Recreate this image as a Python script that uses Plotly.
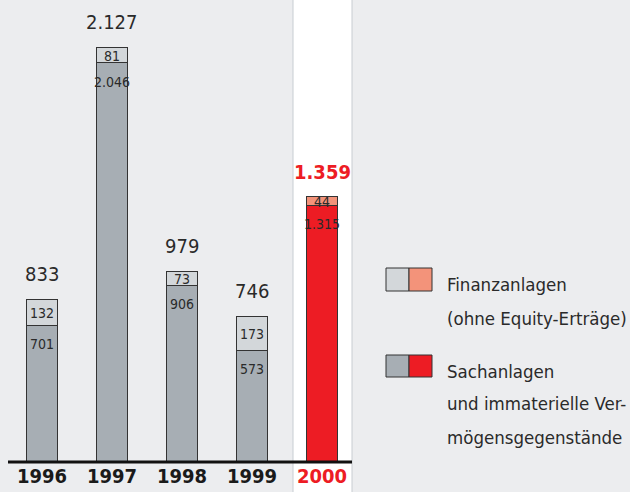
# %% import

import plotly.graph_objects as go

# %% data

years = ["1996", "1997", "1998", "1999", "2000"]
sachanlagen = [701, 2046, 906, 573, 1315]
finanzanlagen = [132, 81, 73, 173, 44]
totals = [s + f for s, f in zip(sachanlagen, finanzanlagen)]

legend_lines = [
    "Finanzanlagen",
    "(ohne Equity-Erträge)",
    "Sachanlagen",
    "und immaterielle Ver-",
    "mögensgegenstände",
]

# %% style

FONT = "DejaVu Sans Condensed, Liberation Sans Narrow, sans-serif"
BG = "#ECEDEF"
DARK = "#A7AEB4"
LIGHT = "#D3D7DA"
RED = "#ED1C24"
SALMON = "#F3937A"
TXT = "#2a2a2a"

W, H = 630, 492
L, R, T, B = 7, 273, 0, 30
PW, PH = W - L - R, H - T - B


def px(x):
    return (x - L) / PW


def py(y):
    return (H - B - y) / PH


x = list(range(len(years)))
cur = len(years) - 1

fig = go.Figure()

fig.add_bar(
    x=x,
    y=sachanlagen,
    marker=dict(color=[DARK] * cur + [RED], line=dict(color="#333", width=1)),
    width=0.43,
    hoverinfo="skip",
)
fig.add_bar(
    x=x,
    y=finanzanlagen,
    marker=dict(color=[LIGHT] * cur + [SALMON], line=dict(color="#333", width=1)),
    width=0.43,
    hoverinfo="skip",
)

# segment labels
for i in x:
    fig.add_annotation(
        x=i, y=sachanlagen[i], text=f"{sachanlagen[i]:,}".replace(",", "."),
        showarrow=False, yshift=-19, font=dict(size=14, color=TXT, family=FONT),
    )
    fig.add_annotation(
        x=i, y=sachanlagen[i] + finanzanlagen[i] / 2, text=f"{finanzanlagen[i]:,}",
        showarrow=False, yshift=-1, font=dict(size=14, color=TXT, family=FONT),
    )
    last = i == cur
    t = f"{totals[i]:,}".replace(",", ".")
    fig.add_annotation(
        x=i, y=totals[i], text=f"<b>{t}</b>" if last else t,
        showarrow=False, yshift=25,
        font=dict(size=20, color=RED if last else TXT, family=FONT),
    )

# highlight column for current year
fig.add_shape(
    type="rect", xref="paper", yref="paper",
    x0=px(293), x1=px(352), y0=py(H + 5), y1=1.01,
    fillcolor="white", line=dict(color="#C8CDD2", width=1), layer="below",
)
# baseline
fig.add_shape(
    type="line", xref="paper", yref="paper",
    x0=px(8), x1=px(352), y0=0, y1=0, line=dict(color="#111", width=3),
)

# legend (hand-made)
for y0, y1, cols in [(268, 291, (LIGHT, SALMON)), (355, 377, (DARK, RED))]:
    fig.add_shape(type="rect", xref="paper", yref="paper",
                  x0=px(386), x1=px(409), y0=py(y1), y1=py(y0),
                  fillcolor=cols[0], line=dict(color="#333", width=1))
    fig.add_shape(type="rect", xref="paper", yref="paper",
                  x0=px(409), x1=px(432), y0=py(y1), y1=py(y0),
                  fillcolor=cols[1], line=dict(color="#333", width=1))

for line, yc in zip(legend_lines, [285, 318, 371, 403, 437]):
    fig.add_annotation(
        xref="paper", yref="paper", x=px(445), y=py(yc), text=line,
        showarrow=False, xanchor="left", yanchor="middle",
        font=dict(size=18.5, color=TXT, family=FONT),
    )

ticktext = [f"<b>{y}</b>" for y in years[:-1]] + [
    f"<span style='color:{RED}'><b>{years[-1]}</b></span>"
]

fig.update_layout(
    width=W, height=H,
    margin=dict(l=L, r=R, t=T, b=B),
    barmode="stack",
    showlegend=False,
    paper_bgcolor=BG,
    plot_bgcolor="rgba(0,0,0,0)",
    font=dict(family=FONT, color=TXT),
    xaxis=dict(
        range=[-0.5, 4.5], tickvals=x, ticktext=ticktext,
        showgrid=False, zeroline=False, showline=False, ticks="",
        tickfont=dict(size=20, color="#1a1a1a", family=FONT),
        fixedrange=True,
    ),
    yaxis=dict(range=[0, 2368], visible=False, fixedrange=True),
)

fig.write_html(
    "out.html",
    config={"displayModeBar": False},
    post_script="document.body.style.margin='0';",
)
